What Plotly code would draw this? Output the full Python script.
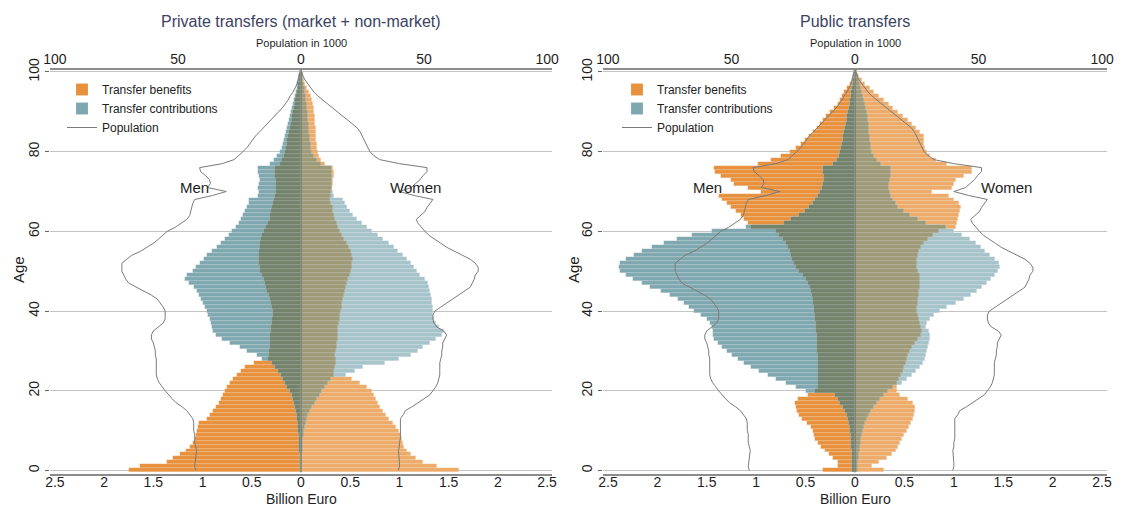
import plotly.graph_objects as go

ages = list(range(0, 101))

# ---------------- Private transfers (billion euro) ----------------
priv_men_benefits = [1.75, 1.64, 1.36, 1.30, 1.23, 1.17, 1.13, 1.10, 1.08, 1.07,
                     1.06, 1.05, 1.04, 0.95, 0.92, 0.89, 0.86, 0.83, 0.81, 0.79,
                     0.77, 0.75, 0.72, 0.69, 0.65, 0.61, 0.57, 0.48, 0.34, 0.33,
                     0.33, 0.32, 0.32, 0.31, 0.31, 0.30, 0.30, 0.29, 0.29, 0.28,
                     0.28, 0.29, 0.30, 0.31, 0.33, 0.35, 0.36, 0.37, 0.38, 0.40,
                     0.42, 0.42, 0.43, 0.43, 0.43, 0.43, 0.42, 0.42, 0.41, 0.40,
                     0.38, 0.36, 0.34, 0.32, 0.31, 0.30, 0.29, 0.28, 0.27, 0.26,
                     0.25, 0.25, 0.25, 0.25, 0.26, 0.26, 0.26, 0.21, 0.19, 0.17,
                     0.16, 0.15, 0.14, 0.14, 0.13, 0.12, 0.11, 0.10, 0.09, 0.09,
                     0.08, 0.07, 0.06, 0.06, 0.05, 0.04, 0.03, 0.03, 0.02, 0.02, 0.01]
priv_men_contrib = [0.01, 0.01, 0.01, 0.01, 0.01, 0.02, 0.02, 0.02, 0.02, 0.02,
                    0.03, 0.03, 0.03, 0.04, 0.04, 0.05, 0.06, 0.07, 0.08, 0.09,
                    0.11, 0.14, 0.16, 0.18, 0.20, 0.23, 0.26, 0.29, 0.40, 0.45,
                    0.55, 0.62, 0.72, 0.80, 0.86, 0.89, 0.90, 0.91, 0.92, 0.94,
                    0.96, 0.98, 1.00, 1.02, 1.04, 1.06, 1.09, 1.14, 1.18, 1.16,
                    1.10, 1.07, 1.03, 0.99, 0.95, 0.90, 0.85, 0.81, 0.77, 0.73,
                    0.70, 0.66, 0.63, 0.61, 0.59, 0.57, 0.55, 0.53, 0.53, 0.44,
                    0.43, 0.44, 0.43, 0.42, 0.43, 0.44, 0.44, 0.31, 0.27, 0.24,
                    0.21, 0.19, 0.18, 0.17, 0.16, 0.15, 0.14, 0.13, 0.12, 0.11,
                    0.10, 0.09, 0.08, 0.07, 0.06, 0.05, 0.04, 0.04, 0.03, 0.02, 0.01]
priv_women_benefits = [1.61, 1.38, 1.24, 1.17, 1.12, 1.08, 1.05, 1.04, 1.03, 1.02,
                       1.00, 0.97, 0.93, 0.89, 0.86, 0.83, 0.80, 0.78, 0.76, 0.74,
                       0.72, 0.67, 0.60, 0.52, 0.34, 0.34, 0.35, 0.36, 0.36, 0.35,
                       0.36, 0.37, 0.37, 0.38, 0.38, 0.38, 0.38, 0.39, 0.40, 0.40,
                       0.41, 0.42, 0.42, 0.43, 0.44, 0.45, 0.46, 0.47, 0.48, 0.50,
                       0.51, 0.52, 0.52, 0.53, 0.52, 0.51, 0.49, 0.47, 0.44, 0.42,
                       0.40, 0.38, 0.37, 0.35, 0.34, 0.33, 0.32, 0.30, 0.29, 0.30,
                       0.30, 0.31, 0.33, 0.33, 0.34, 0.34, 0.33, 0.24, 0.20, 0.18,
                       0.17, 0.16, 0.16, 0.15, 0.15, 0.15, 0.15, 0.14, 0.14, 0.14,
                       0.13, 0.13, 0.12, 0.11, 0.10, 0.08, 0.06, 0.04, 0.03, 0.02, 0.01]
priv_women_contrib = [0.01, 0.01, 0.01, 0.01, 0.01, 0.02, 0.02, 0.02, 0.02, 0.03,
                      0.03, 0.04, 0.05, 0.06, 0.07, 0.09, 0.11, 0.14, 0.16, 0.19,
                      0.21, 0.24, 0.27, 0.30, 0.46, 0.55, 0.63, 0.85, 1.00, 1.12,
                      1.19, 1.24, 1.31, 1.37, 1.43, 1.45, 1.40, 1.37, 1.35, 1.34,
                      1.34, 1.34, 1.33, 1.33, 1.32, 1.31, 1.30, 1.29, 1.26, 1.21,
                      1.18, 1.15, 1.12, 1.08, 1.04, 0.99, 0.94, 0.89, 0.83, 0.78,
                      0.72, 0.67, 0.62, 0.57, 0.53, 0.50, 0.47, 0.45, 0.43, 0.34,
                      0.32, 0.31, 0.31, 0.31, 0.31, 0.31, 0.31, 0.20, 0.16, 0.13,
                      0.11, 0.10, 0.10, 0.09, 0.09, 0.08, 0.08, 0.08, 0.07, 0.07,
                      0.07, 0.06, 0.06, 0.05, 0.05, 0.04, 0.04, 0.03, 0.02, 0.02, 0.01]

# ---------------- Public transfers (billion euro) ----------------
pub_men_benefits = [0.32, 0.17, 0.17, 0.22, 0.26, 0.30, 0.34, 0.37, 0.40, 0.41,
                    0.42, 0.45, 0.49, 0.54, 0.57, 0.59, 0.60, 0.61, 0.58, 0.48,
                    0.40, 0.37, 0.37, 0.37, 0.37, 0.37, 0.37, 0.37, 0.37, 0.37,
                    0.38, 0.38, 0.38, 0.38, 0.38, 0.39, 0.39, 0.39, 0.40, 0.40,
                    0.41, 0.41, 0.42, 0.43, 0.44, 0.45, 0.46, 0.48, 0.50, 0.53,
                    0.57, 0.60, 0.62, 0.64, 0.65, 0.66, 0.68, 0.70, 0.73, 0.77,
                    0.80, 1.05, 1.08, 1.12, 1.15, 1.20, 1.25, 1.30, 1.35, 1.38,
                    0.95, 1.08, 1.22, 1.25, 1.36, 1.42, 1.43, 0.98, 0.85, 0.75,
                    0.66, 0.60, 0.55, 0.51, 0.47, 0.42, 0.38, 0.35, 0.32, 0.29,
                    0.25, 0.21, 0.17, 0.15, 0.13, 0.11, 0.08, 0.05, 0.03, 0.02, 0.01]
pub_men_contrib = [0.03, 0.03, 0.03, 0.03, 0.03, 0.03, 0.04, 0.04, 0.04, 0.04,
                   0.05, 0.05, 0.06, 0.07, 0.08, 0.10, 0.12, 0.15, 0.17, 0.20,
                   0.50, 0.60, 0.70, 0.80, 0.88, 0.97, 1.05, 1.12, 1.18, 1.24,
                   1.30, 1.35, 1.39, 1.43, 1.44, 1.44, 1.45, 1.47, 1.50, 1.56,
                   1.63, 1.68, 1.73, 1.79, 1.87, 1.96, 2.07, 2.16, 2.25, 2.32,
                   2.38, 2.39, 2.38, 2.32, 2.24, 2.16, 2.05, 1.93, 1.80, 1.65,
                   1.45, 1.10, 0.72, 0.65, 0.57, 0.51, 0.47, 0.43, 0.40, 0.37,
                   0.35, 0.33, 0.32, 0.31, 0.31, 0.32, 0.32, 0.22, 0.18, 0.16,
                   0.15, 0.14, 0.13, 0.12, 0.12, 0.11, 0.10, 0.09, 0.08, 0.08,
                   0.07, 0.06, 0.05, 0.05, 0.04, 0.04, 0.03, 0.02, 0.02, 0.01, 0.01]
pub_women_benefits = [0.29, 0.17, 0.24, 0.32, 0.37, 0.41, 0.44, 0.46, 0.48, 0.50,
                      0.53, 0.55, 0.57, 0.59, 0.60, 0.61, 0.61, 0.59, 0.54, 0.46,
                      0.43, 0.42, 0.43, 0.45, 0.47, 0.49, 0.50, 0.52, 0.53, 0.54,
                      0.56, 0.58, 0.61, 0.64, 0.67, 0.68, 0.67, 0.66, 0.65, 0.64,
                      0.63, 0.63, 0.64, 0.64, 0.65, 0.65, 0.66, 0.66, 0.66, 0.66,
                      0.64, 0.63, 0.63, 0.63, 0.64, 0.65, 0.67, 0.70, 0.74, 0.79,
                      0.85, 1.02, 1.03, 1.04, 1.05, 1.06, 1.07, 1.05, 1.00, 0.95,
                      0.78, 0.98, 1.00, 1.02, 1.10, 1.18, 1.18, 0.93, 0.82, 0.76,
                      0.73, 0.71, 0.70, 0.70, 0.70, 0.66, 0.62, 0.58, 0.54, 0.49,
                      0.44, 0.38, 0.34, 0.29, 0.24, 0.19, 0.15, 0.10, 0.07, 0.04, 0.02]
pub_women_contrib = [0.03, 0.03, 0.03, 0.04, 0.04, 0.05, 0.05, 0.06, 0.06, 0.07,
                     0.08, 0.09, 0.10, 0.12, 0.14, 0.16, 0.19, 0.22, 0.25, 0.29,
                     0.33, 0.38, 0.48, 0.53, 0.58, 0.62, 0.66, 0.69, 0.71, 0.72,
                     0.73, 0.74, 0.75, 0.76, 0.76, 0.75, 0.72, 0.73, 0.76, 0.80,
                     0.86, 0.93, 1.02, 1.10, 1.17, 1.23, 1.29, 1.34, 1.38, 1.42,
                     1.45, 1.47, 1.46, 1.42, 1.37, 1.32, 1.27, 1.22, 1.16, 1.08,
                     1.00, 0.92, 0.72, 0.64, 0.56, 0.50, 0.44, 0.41, 0.38, 0.36,
                     0.35, 0.34, 0.34, 0.35, 0.36, 0.36, 0.36, 0.26, 0.22, 0.19,
                     0.17, 0.16, 0.16, 0.15, 0.15, 0.14, 0.14, 0.14, 0.13, 0.13,
                     0.12, 0.11, 0.10, 0.09, 0.08, 0.07, 0.06, 0.05, 0.04, 0.03, 0.02]

# ---------------- Population (in 1000) ----------------
pop_men = [42.8, 43.2, 43.0, 42.8, 42.4, 42.4, 42.8, 43.2, 43.2, 43.2,
           43.6, 43.6, 43.6, 44.0, 45.2, 46.4, 48.4, 50.8, 52.4, 54.0,
           55.2, 56.4, 57.6, 58.4, 58.8, 58.8, 58.8, 58.8, 58.8, 59.2,
           59.2, 59.6, 60.0, 60.8, 60.8, 60.0, 58.0, 56.0, 55.2, 55.2,
           55.2, 56.0, 57.2, 58.4, 60.8, 64.0, 67.2, 70.0, 71.2, 72.0,
           72.8, 72.8, 72.8, 70.8, 68.8, 65.2, 62.4, 60.0, 58.0, 56.0,
           54.4, 51.2, 48.8, 46.4, 45.2, 44.8, 44.4, 44.0, 43.2, 36.0,
           30.4, 38.0, 36.8, 37.2, 38.8, 40.8, 41.2, 32.0, 27.2, 25.2,
           23.6, 22.0, 20.8, 19.6, 18.4, 16.8, 15.2, 13.6, 12.0, 10.4,
           8.8, 7.6, 6.4, 5.2, 4.4, 3.2, 2.4, 1.6, 1.2, 0.8, 0.4]
pop_women = [39.6, 40.0, 40.0, 39.8, 39.6, 39.6, 40.0, 40.0, 40.4, 40.4,
             40.4, 40.4, 40.4, 40.4, 41.6, 42.4, 45.2, 47.6, 50.0, 52.4,
             53.6, 54.8, 55.6, 56.0, 56.4, 56.4, 56.4, 56.4, 56.8, 57.2,
             57.2, 57.6, 57.6, 58.4, 59.2, 58.0, 55.2, 54.0, 53.6, 53.6,
             54.4, 56.8, 59.2, 62.0, 64.4, 66.8, 68.8, 69.6, 70.4, 70.8,
             72.0, 72.0, 70.8, 68.8, 65.6, 62.4, 59.2, 56.8, 54.4, 52.0,
             50.4, 48.8, 47.6, 46.8, 48.4, 50.4, 51.2, 52.4, 53.6, 46.0,
             40.0, 44.8, 46.8, 48.4, 49.6, 51.2, 51.2, 40.0, 32.0, 29.6,
             28.0, 27.2, 26.4, 25.6, 24.8, 24.0, 22.8, 20.8, 18.4, 16.4,
             14.4, 12.4, 10.4, 8.8, 6.8, 5.2, 4.0, 2.8, 1.6, 0.8, 0.4]

# ---------------- Axis labels ----------------
euro_tickvals = [-2.5, -2, -1.5, -1, -0.5, 0, 0.5, 1, 1.5, 2, 2.5]
euro_ticktext = ["2.5", "2", "1.5", "1", "0.5", "0", "0.5", "1", "1.5", "2", "2.5"]
pop_tickvals = [-100, -50, 0, 50, 100]
pop_ticktext = ["100", "50", "0", "50", "100"]
age_ticks = [0, 20, 40, 60, 80, 100]
panel_titles = ["Private transfers (market + non-market)", "Public transfers"]

# ---------------- Styles ----------------
FONT = "Liberation Sans, Arial, sans-serif"
men_orange, women_orange = "#E8913D", "#EDAB6A"
men_teal, women_teal = "#7FA7B0", "#A6C3CA"
men_dark, women_dark = "#72826B", "#9E9977"
POP_COL = "#7a7a7a"
BAR_W = 1.0
STRIPE = dict(color="rgba(255,255,255,0.22)", width=0.6)

fig = go.Figure()

panels = [
    dict(xa="x", xpop="x3", ya="y", legend="legend",
         mb=priv_men_benefits, mc=priv_men_contrib,
         wb=priv_women_benefits, wc=priv_women_contrib),
    dict(xa="x2", xpop="x4", ya="y2", legend="legend2",
         mb=pub_men_benefits, mc=pub_men_contrib,
         wb=pub_women_benefits, wc=pub_women_contrib),
]

for p in panels:
    for sex, sign, b, c, col_b, col_c, col_d in [
        ("men", -1, p["mb"], p["mc"], men_orange, men_teal, men_dark),
        ("women", 1, p["wb"], p["wc"], women_orange, women_teal, women_dark),
    ]:
        show = sex == "men"
        fig.add_trace(go.Bar(
            x=[sign * v for v in b], y=ages, orientation="h", width=BAR_W,
            marker=dict(color=col_b, line=STRIPE),
            name="Transfer benefits", showlegend=show, legend=p["legend"],
            xaxis=p["xa"], yaxis=p["ya"], hoverinfo="skip"))
        fig.add_trace(go.Bar(
            x=[sign * v for v in c], y=ages, orientation="h", width=BAR_W,
            marker=dict(color=col_c, line=STRIPE),
            name="Transfer contributions", showlegend=show, legend=p["legend"],
            xaxis=p["xa"], yaxis=p["ya"], hoverinfo="skip"))
        fig.add_trace(go.Bar(
            x=[sign * min(u, v) for u, v in zip(b, c)], y=ages, orientation="h",
            width=BAR_W, marker=dict(color=col_d, line=STRIPE),
            showlegend=False, xaxis=p["xa"], yaxis=p["ya"], hoverinfo="skip"))
    fig.add_trace(go.Scatter(
        x=[-v for v in pop_men], y=ages, mode="lines",
        line=dict(color=POP_COL, width=1),
        name="Population", showlegend=True, legend=p["legend"],
        xaxis=p["xpop"], yaxis=p["ya"], hoverinfo="skip"))
    fig.add_trace(go.Scatter(
        x=pop_women, y=ages, mode="lines",
        line=dict(color=POP_COL, width=1),
        showlegend=False, xaxis=p["xpop"], yaxis=p["ya"], hoverinfo="skip"))
    # zero reference line
    fig.add_shape(type="line", xref=p["xa"], yref=p["ya"], x0=0, x1=0,
                  y0=-0.5, y1=100.5, line=dict(color="#5f6b66", width=1),
                  layer="above")

# page body has an 8px margin: the figure is sized/positioned to compensate
OFF = 8
W, H = 1125 - OFF, 508 - OFF
T, B = 70 - OFF, 34
PH = H - T - B
doms = [[(50 - OFF) / W, (552 - OFF) / W], [(603 - OFF) / W, (1107 - OFF) / W]]
centers = [(301 - OFF) / W, (855 - OFF) / W]
XR = [-2.55, 2.55]
PR = [-102, 102]
YR = [-0.9, 100.5]


def px_x(pix):
    return (pix - OFF) / W


def px_y(pix):
    return (H - B - (pix - OFF)) / PH


tickfont = dict(family=FONT, size=14, color="#1e1e1e")

common_x = dict(range=XR, tickvals=euro_tickvals, ticktext=euro_ticktext,
                showgrid=False, zeroline=False, showline=True,
                linecolor="#8c8c8c", linewidth=1.5, ticks="",
                tickfont=tickfont, automargin=False, ticklabelstandoff=-6)
common_pop = dict(range=PR, tickvals=pop_tickvals, ticktext=pop_ticktext,
                  side="top", showgrid=False, zeroline=False, showline=True,
                  linecolor="#8c8c8c", linewidth=1.5, ticks="",
                  tickfont=tickfont, automargin=False, ticklabelstandoff=-1)
common_y = dict(range=YR, tickvals=age_ticks, ticktext=[str(a) for a in age_ticks],
                tickangle=-90, ticks="outside", ticklen=4, tickcolor="#666",
                showgrid=True, gridcolor="#c4c4c4", gridwidth=1,
                zeroline=False, showline=False, tickfont=tickfont,
                automargin=False)

legend_common = dict(yanchor="top", xanchor="left", bgcolor="rgba(0,0,0,0)",
                     font=dict(family=FONT, size=12, color="#222"),
                     tracegroupgap=0)

fig.update_layout(
    width=W, height=H, barmode="overlay", bargap=0,
    margin=dict(l=0, r=0, t=T, b=B, autoexpand=False),
    paper_bgcolor="white", plot_bgcolor="white",
    font=dict(family=FONT, color="#1e1e1e"),
    xaxis=dict(domain=doms[0], anchor="y", **common_x),
    xaxis2=dict(domain=doms[1], anchor="y2", **common_x),
    xaxis3=dict(overlaying="x", anchor="y", **common_pop),
    xaxis4=dict(overlaying="x2", anchor="y2", **common_pop),
    yaxis=dict(domain=[0, 1], anchor="x", **common_y),
    yaxis2=dict(domain=[0, 1], anchor="x2", **common_y),
    legend=dict(x=px_x(62), y=px_y(75), **legend_common),
    legend2=dict(x=px_x(617), y=px_y(75), **legend_common),
    showlegend=True,
)

annotations = []
for i in range(2):
    annotations.append(dict(text=panel_titles[i], xref="paper", yref="paper",
                            x=centers[i], y=px_y(22), showarrow=False,
                            xanchor="center", yanchor="middle",
                            font=dict(family=FONT, size=16, color="#3b4262")))
    annotations.append(dict(text="Population in 1000", xref="paper", yref="paper",
                            x=centers[i], y=px_y(43), showarrow=False,
                            xanchor="center", yanchor="middle",
                            font=dict(family=FONT, size=11, color="#1e1e1e")))
    annotations.append(dict(text="Billion Euro", xref="paper", yref="paper",
                            x=centers[i], y=px_y(499), showarrow=False,
                            xanchor="center", yanchor="middle",
                            font=dict(family=FONT, size=14, color="#1e1e1e")))
    annotations.append(dict(text="Age", xref="paper", yref="paper",
                            x=px_x([18, 573][i]), y=px_y(270), showarrow=False,
                            xanchor="center", yanchor="middle", textangle=-90,
                            font=dict(family=FONT, size=15, color="#1e1e1e")))
annotations += [
    dict(text="Men", xref="x", yref="y", x=-1.08, y=71, showarrow=False,
         font=dict(family=FONT, size=15, color="#1e1e1e")),
    dict(text="Women", xref="x", yref="y", x=1.16, y=71, showarrow=False,
         font=dict(family=FONT, size=15, color="#1e1e1e")),
    dict(text="Men", xref="x2", yref="y2", x=-1.49, y=71, showarrow=False,
         font=dict(family=FONT, size=15, color="#1e1e1e")),
    dict(text="Women", xref="x2", yref="y2", x=1.53, y=71, showarrow=False,
         font=dict(family=FONT, size=15, color="#1e1e1e")),
]
fig.update_layout(annotations=annotations)

fig.write_html("out.html")
